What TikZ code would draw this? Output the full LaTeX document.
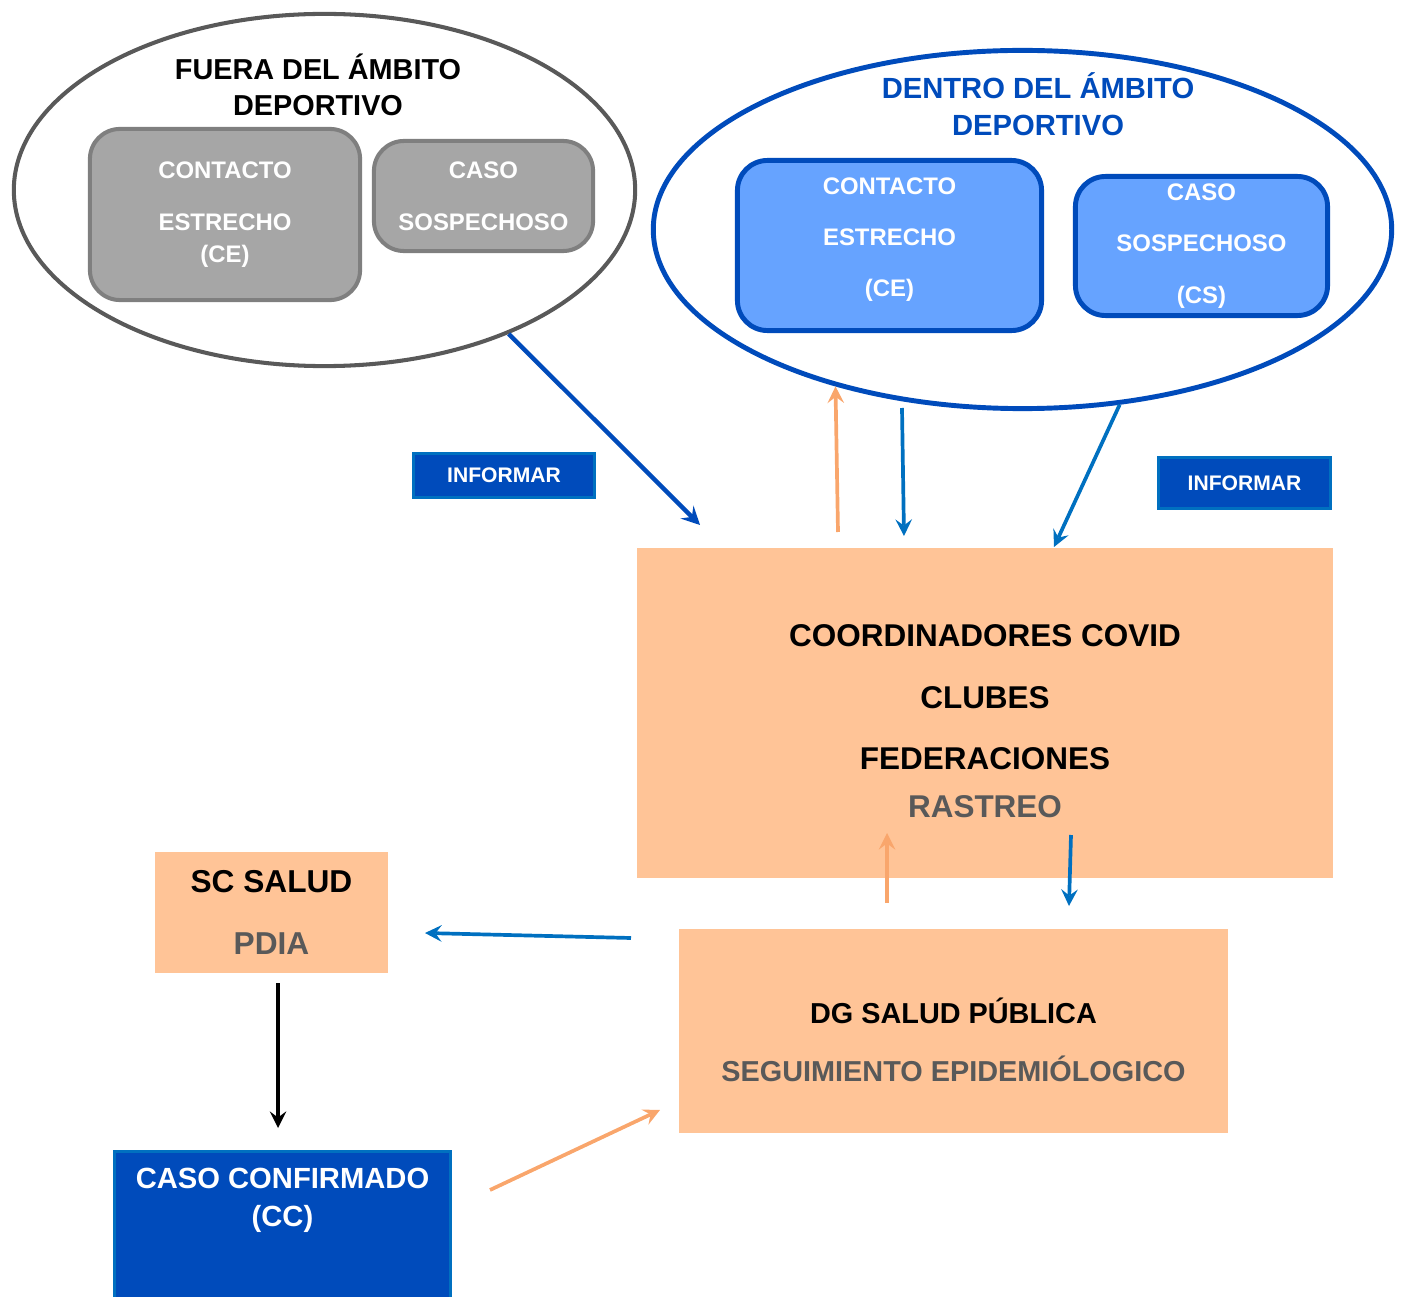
\documentclass[tikz,border=0pt]{standalone}
\usepackage{fontspec}
\setmainfont{Liberation Sans}
\usetikzlibrary{shapes.geometric}
\definecolor{azul}{HTML}{004BBB}
\definecolor{azulclaro}{HTML}{0070C0}
\definecolor{celeste}{HTML}{66A3FF}
\definecolor{melocoton}{HTML}{FFC497}
\definecolor{grisosc}{HTML}{595959}
\definecolor{grismed}{HTML}{7F7F7F}
\definecolor{grisclaro}{HTML}{A6A6A6}
\definecolor{naranja}{HTML}{F9A66C}
\begin{document}
\begin{tikzpicture}[x=0.01cm, y=-0.01cm, >=stealth, font=\bfseries,
  ambito/.style={ellipse, draw, inner sep=0pt},
  caja/.style={rectangle, rounded corners=0.3cm, align=center, text=white, inner sep=0pt},
  bloque/.style={rectangle, fill=melocoton, align=center, inner sep=0pt},
  aviso/.style={rectangle, fill=azul, draw=azulclaro, line width=0.9pt, text=white, inner sep=0pt, font=\bfseries\fontsize{6}{7}\selectfont},
  flecha/.style={->, line width=1.05pt}]
\useasboundingbox (0,0) rectangle (1402,1297);

% ambitos
\node[ambito, draw=grisosc, line width=1.15pt, minimum width=6.21cm, minimum height=3.52cm] (fuera) at (324.5,190) {};
\node[align=center, font=\bfseries\fontsize{8.2}{10.2}\selectfont] (tfuera) at (318,85) {FUERA DEL ÁMBITO\\DEPORTIVO};
\node[ambito, draw=azul, line width=1.4pt, minimum width=7.38cm, minimum height=3.58cm] (dentro) at (1022.5,229.5) {};
\node[align=center, text=azul, font=\bfseries\fontsize{8.3}{10.5}\selectfont] (tdentro) at (1038,104) {DENTRO DEL ÁMBITO\\DEPORTIVO};

% casos
\node[caja, fill=grisclaro, draw=grismed, line width=1.15pt, minimum width=2.70cm, minimum height=1.71cm, font=\bfseries\fontsize{6.8}{9.1}\selectfont] (cefuera) at (225,214.5) {CONTACTO\\[5.7pt]ESTRECHO\\(CE)};
\node[caja, fill=grisclaro, draw=grismed, line width=1.15pt, minimum width=2.19cm, minimum height=1.10cm, font=\bfseries\fontsize{6.8}{14.8}\selectfont] (csfuera) at (483.5,196) {CASO\\SOSPECHOSO};
\node[caja, fill=celeste, draw=azul, line width=1.4pt, text height=1.36cm, text depth=0.34cm, font=\bfseries\fontsize{6.8}{14.5}\selectfont,
  minimum width=3.04cm] (cedentro) at (889.5,245.5) {CONTACTO\\ESTRECHO\\(CE)};
\node[caja, fill=celeste, draw=azul, line width=1.4pt, minimum width=2.52cm, minimum height=1.39cm, font=\bfseries\fontsize{6.8}{14.7}\selectfont] (csdentro) at (1201.5,246) {CASO\\SOSPECHOSO\\(CS)};

\node[aviso, minimum width=1.81cm, minimum height=0.44cm] (inf1) at (504,475.5) {INFORMAR};
\node[aviso, minimum width=1.72cm, minimum height=0.51cm] (inf2) at (1244.5,483) {INFORMAR};

% bloques
\node[bloque, minimum width=6.96cm, text height=2.69cm, text depth=0.61cm, font=\bfseries\fontsize{8.95}{17.5}\selectfont] (coord) at (985,713)
  {COORDINADORES COVID\\CLUBES\\FEDERACIONES\\[-4pt]\textcolor{grisosc}{RASTREO}};
\node[bloque, minimum width=2.33cm, minimum height=1.21cm, font=\bfseries\fontsize{9}{17.6}\selectfont] (sc) at (271.5,912.5)
  {SC SALUD\\\textcolor{grisosc}{PDIA}};
\node[bloque, minimum width=5.49cm, text height=1.52cm, text depth=0.52cm, font=\bfseries\fontsize{8.2}{16.5}\selectfont] (dg) at (953.5,1031)
  {DG SALUD PÚBLICA\\\textcolor{grisosc}{SEGUIMIENTO EPIDEMIÓLOGICO}};
\node[rectangle, fill=azul, draw=azulclaro, line width=0.9pt, anchor=north, align=center, text=white, inner sep=0.17cm,
  minimum width=3.35cm, text depth=1.2cm, font=\bfseries\fontsize{8.3}{10.8}\selectfont] (cc) at (282.5,1150) {CASO CONFIRMADO\\(CC)};

% flechas
\coordinate (a1) at (700,525);
\coordinate (o1) at (838,532);
\coordinate (b1) at (902,408);
\coordinate (b2) at (904,536);
\coordinate (b3) at (1054,547);
\coordinate (o2) at (887,903);
\coordinate (o3) at (887,833);
\coordinate (b4) at (1071,835);
\coordinate (b5) at (1069,906);
\coordinate (b6) at (631,938);
\coordinate (b7) at (425,933);
\coordinate (k1) at (278,983);
\coordinate (k2) at (278,1128);
\coordinate (o4) at (490,1190);
\coordinate (o5) at (660,1110);

\draw[flecha, azul, line width=1.25pt] (fuera.-38) -- (a1);
\draw[flecha, naranja] (o1) -- (dentro.220);
\draw[flecha, azulclaro] (b1) -- (b2);
\draw[flecha, azulclaro] (dentro.-61) -- (b3);
\draw[flecha, naranja] (o2) -- (o3);
\draw[flecha, azulclaro] (b4) -- (b5);
\draw[flecha, azulclaro] (b6) -- (b7);
\draw[flecha, black] (k1) -- (k2);
\draw[flecha, naranja] (o4) -- (o5);
\end{tikzpicture}
\end{document}
